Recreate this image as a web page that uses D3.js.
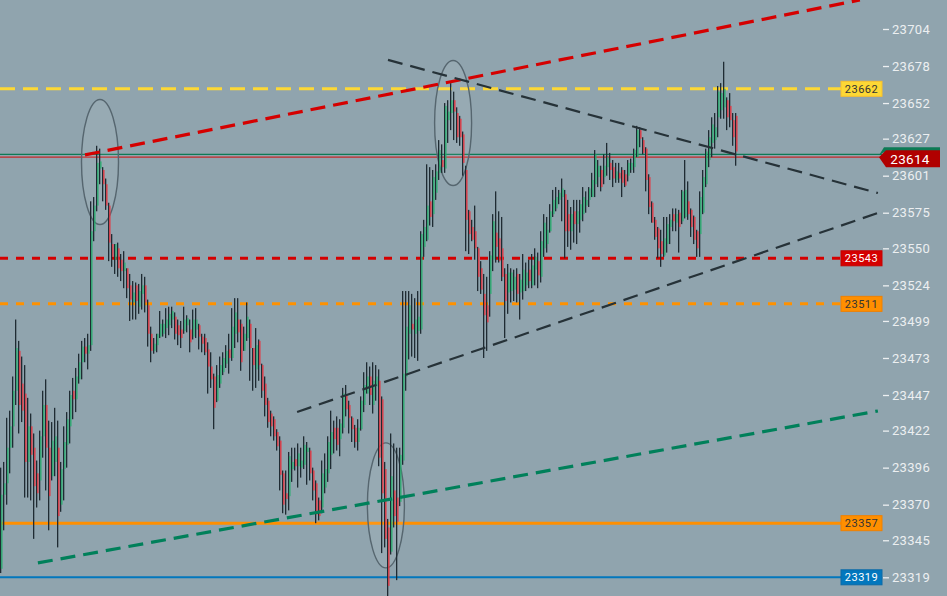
<!DOCTYPE html>
<html><head><meta charset="utf-8">
<script src="https://cdn.jsdelivr.net/npm/d3@7/dist/d3.min.js"></script>
<style>
html,body{margin:0;padding:0;background:#90a4ae;overflow:hidden}
svg{display:block;font-family:Roboto,"Noto Sans",sans-serif}
</style></head><body>
<svg id="c" width="947" height="596"></svg>
<script>
// ---- data ----
const opens = [23325,23377,23385,23410,23425,23450,23478,23455,23448,23400,23425,23410,23392,23387,23418,23440,23410,23390,23400,23410,23370,23395,23412,23425,23450,23444,23458,23470,23481,23476,23482,23562,23580,23606,23605,23595,23580,23553,23542,23550,23542,23534,23536,23524,23512,23524,23509,23518,23524,23510,23490,23478,23482,23488,23490,23494,23496,23500,23502,23496,23493,23492,23496,23493,23488,23493,23496,23488,23487,23479,23467,23460,23443,23455,23463,23469,23479,23473,23490,23500,23497,23478,23487,23497,23480,23465,23485,23468,23455,23443,23434,23430,23421,23415,23392,23378,23376,23395,23402,23397,23396,23398,23407,23408,23394,23385,23373,23368,23382,23392,23405,23424,23424,23416,23424,23447,23440,23431,23424,23414,23423,23440,23448,23460,23440,23453,23457,23444,23395,23354,23337,23380,23375,23372,23401,23460,23490,23497,23490,23492,23493,23551,23556,23583,23574,23589,23603,23612,23606,23640,23645,23654,23645,23641,23630,23605,23576,23565,23562,23550,23536,23518,23510,23518,23542,23561,23557,23550,23532,23519,23520,23521,23532,23519,23520,23524,23535,23524,23535,23541,23530,23550,23553,23562,23574,23578,23584,23586,23588,23574,23562,23576,23567,23570,23574,23580,23584,23586,23595,23600,23605,23600,23607,23610,23607,23598,23603,23605,23602,23601,23605,23607,23614,23633,23626,23620,23600,23582,23570,23564,23555,23545,23553,23565,23574,23568,23575,23569,23572,23583,23577,23572,23562,23560,23575,23595,23612,23624,23626,23642,23647,23649,23654,23650,23640,23643];
const highs = [23396,23400,23431,23436,23460,23500,23485,23474,23468,23445,23434,23420,23401,23422,23450,23458,23429,23428,23438,23429,23400,23425,23435,23450,23459,23466,23476,23485,23487,23490,23583,23586,23622,23620,23607,23599,23582,23560,23553,23554,23546,23548,23536,23532,23527,23526,23525,23532,23530,23514,23495,23487,23490,23506,23500,23508,23509,23509,23505,23500,23499,23509,23503,23500,23507,23508,23497,23490,23490,23484,23477,23462,23468,23474,23477,23482,23490,23508,23515,23515,23500,23495,23512,23500,23480,23494,23486,23469,23460,23445,23436,23432,23423,23418,23394,23394,23407,23410,23410,23413,23410,23418,23414,23410,23396,23387,23375,23401,23406,23418,23436,23429,23432,23430,23452,23454,23443,23432,23426,23430,23446,23463,23470,23467,23470,23468,23465,23446,23400,23360,23420,23413,23410,23410,23520,23520,23520,23518,23515,23520,23562,23570,23609,23607,23605,23609,23626,23623,23652,23654,23666,23660,23649,23643,23632,23608,23577,23570,23580,23551,23541,23532,23530,23548,23574,23590,23576,23572,23536,23539,23536,23535,23536,23532,23546,23540,23542,23546,23550,23547,23562,23574,23572,23581,23591,23593,23591,23599,23591,23584,23579,23584,23584,23584,23593,23590,23593,23603,23619,23612,23608,23616,23624,23617,23612,23610,23610,23607,23605,23612,23613,23620,23636,23635,23628,23621,23602,23583,23572,23565,23563,23572,23572,23574,23578,23578,23577,23591,23612,23597,23578,23573,23563,23590,23605,23620,23633,23642,23645,23664,23666,23681,23656,23659,23645,23645];
const lows = [23322,23352,23370,23392,23410,23440,23420,23428,23375,23375,23373,23346,23368,23373,23403,23380,23352,23387,23390,23340,23365,23373,23396,23413,23430,23435,23455,23458,23470,23465,23478,23555,23576,23595,23583,23577,23541,23537,23532,23530,23527,23522,23515,23499,23500,23500,23504,23507,23505,23481,23470,23476,23477,23487,23488,23487,23489,23494,23486,23482,23480,23490,23491,23477,23486,23487,23479,23477,23475,23448,23452,23423,23442,23452,23461,23466,23462,23471,23480,23484,23464,23478,23485,23457,23450,23452,23457,23445,23432,23424,23418,23415,23408,23380,23364,23363,23366,23386,23394,23382,23389,23395,23384,23387,23373,23357,23359,23364,23378,23386,23395,23406,23408,23404,23420,23432,23420,23414,23410,23408,23422,23435,23448,23440,23434,23443,23397,23336,23340,23300,23335,23354,23317,23369,23398,23450,23472,23474,23473,23471,23490,23544,23555,23566,23565,23584,23598,23603,23603,23624,23633,23626,23624,23622,23601,23548,23546,23555,23542,23520,23518,23473,23478,23502,23534,23540,23540,23527,23487,23504,23512,23513,23512,23500,23514,23520,23522,23522,23524,23522,23526,23544,23547,23561,23572,23576,23581,23569,23543,23551,23549,23554,23553,23561,23569,23575,23579,23586,23586,23593,23590,23595,23601,23598,23593,23596,23596,23586,23593,23597,23603,23603,23614,23621,23616,23590,23574,23568,23556,23543,23537,23544,23547,23553,23562,23562,23547,23567,23571,23570,23558,23553,23544,23544,23574,23593,23607,23614,23620,23628,23641,23641,23633,23635,23622,23608];
const closes = [23377,23385,23410,23425,23450,23480,23440,23436,23400,23425,23405,23383,23378,23418,23440,23410,23376,23415,23418,23362,23395,23414,23430,23447,23444,23460,23470,23481,23476,23482,23562,23580,23610,23611,23595,23580,23554,23544,23553,23536,23534,23540,23522,23514,23519,23513,23520,23524,23512,23490,23478,23483,23490,23497,23497,23500,23504,23506,23490,23489,23487,23500,23501,23484,23500,23500,23488,23483,23477,23467,23458,23438,23461,23468,23473,23478,23473,23495,23505,23491,23470,23490,23502,23480,23468,23482,23468,23450,23440,23428,23425,23418,23411,23391,23370,23374,23404,23400,23397,23406,23401,23412,23410,23392,23380,23363,23362,23392,23395,23414,23421,23416,23412,23427,23448,23437,23431,23423,23414,23424,23443,23454,23460,23447,23457,23460,23403,23378,23346,23313,23390,23362,23358,23405,23462,23495,23510,23493,23500,23502,23560,23565,23580,23572,23600,23604,23619,23607,23650,23646,23654,23646,23628,23628,23610,23570,23560,23556,23550,23530,23521,23503,23498,23545,23569,23551,23541,23530,23513,23533,23533,23530,23518,23528,23535,23533,23527,23538,23544,23531,23555,23568,23563,23576,23584,23586,23589,23592,23562,23562,23574,23567,23576,23581,23586,23584,23592,23598,23616,23608,23593,23608,23614,23605,23599,23604,23599,23596,23594,23610,23610,23619,23633,23627,23617,23598,23579,23568,23558,23550,23546,23557,23567,23570,23569,23574,23565,23590,23591,23574,23565,23556,23550,23586,23600,23618,23628,23637,23635,23660,23659,23662,23642,23640,23628,23618];

const tickValues = [23319,23345,23370,23396,23422,23447,23473,23499,23524,23550,23575,23601,23627,23652,23678,23704];

// horizontal levels
const levelPrices = [23662, 23543, 23511, 23357, 23319];
const levelLabels = ["23662","23543","23511","23357","23319"];
const currentPrice = 23614;
const currentLabel = "23614";
const greenRefPrice = 23616;

// trend lines: [startIndex, startPrice, endIndex, endPrice]
const trendRed   = [28, 23615.6, 286.3, 23724.4];
const trendUpper = [129, 23682.3, 292.3, 23588.8];
const trendLower = [98.7, 23435.1, 292.3, 23574.8];
const trendGreen = [12.3, 23329.1, 292.3, 23435.8];

// annotation ellipses centred on [candleIndex, price]
const ellipseCentres = [[33, 23610.6], [150.7, 23638], [128.3, 23369.5]];

// ---- drawing ----
const W = 947, H = 596;
const svg = d3.select("#c");
svg.append("rect").attr("width", W).attr("height", H).attr("fill", "#90a4ae");

const y = d3.scaleLinear().domain([23305.87, 23724.36]).range([H, 0]);
const x = d3.scaleLinear().domain([0, 245]).range([1, 736]);

const candles = opens.map((o, i) => ({i, o, h: highs[i], l: lows[i], c: closes[i]}));

const lv = svg.append("g");
function hline(price, color, width, dash, x2) {
  lv.append("line").attr("x1", 0).attr("x2", x2).attr("y1", y(price)).attr("y2", y(price))
    .attr("stroke", color).attr("stroke-width", width)
    .attr("stroke-dasharray", dash || null);
}
hline(levelPrices[0], "#fdd835", 3, "15,8", 841);
hline(levelPrices[1], "#d50000", 3, "8,8", 841);
hline(levelPrices[2], "#ff9100", 3, "8,8", 841);
hline(levelPrices[3], "#ff8f00", 3, null, 841);
hline(levelPrices[4], "#0277bd", 2, null, 841);
hline(greenRefPrice, "#0d7a55", 1.2, null, 882);
hline(currentPrice, "#c62828", 1.4, null, 882);

const el = svg.append("g");
ellipseCentres.forEach(([ci, p]) => {
  el.append("ellipse").attr("cx", x(ci)).attr("cy", y(p)).attr("rx", 18.5).attr("ry", 62.5)
    .attr("fill", "rgba(255,255,255,0.07)").attr("stroke", "#56666f").attr("stroke-width", 1.4);
});

const cg = svg.append("g");
cg.selectAll("rect.w").data(candles).join("rect").attr("class", "w")
  .attr("x", d => Math.round(x(d.i)) - 1).attr("width", 1.3)
  .attr("y", d => y(d.h)).attr("height", d => Math.max(1, y(d.l) - y(d.h)))
  .attr("fill", "#1f2b33");
cg.selectAll("rect.b").data(candles).join("rect").attr("class", "b")
  .attr("x", d => Math.round(x(d.i)) + 0.2).attr("width", 1.3)
  .attr("y", d => y(Math.max(d.o, d.c))).attr("height", d => Math.max(1, Math.abs(y(d.o) - y(d.c))))
  .attr("fill", d => d.c >= d.o ? "#27ad6e" : "#e8333f");

const tl = svg.append("g");
function trend(t, color, width, dash) {
  tl.append("line").attr("x1", x(t[0])).attr("y1", y(t[1])).attr("x2", x(t[2])).attr("y2", y(t[3]))
    .attr("stroke", color).attr("stroke-width", width).attr("stroke-dasharray", dash);
}
trend(trendRed, "#d50000", 3.2, "15,8");
trend(trendUpper, "#263238", 2.2, "15,8");
trend(trendLower, "#263238", 2.2, "15,8");
trend(trendGreen, "#00805a", 3.2, "15,8");

const axis = d3.axisRight(y).tickValues(tickValues).tickSize(6).tickPadding(3).tickFormat(d3.format("d"));
const ag = svg.append("g").attr("transform", "translate(883,0)").call(axis);
ag.select(".domain").remove();
ag.selectAll(".tick line").attr("stroke", "#eceff1").attr("stroke-width", 1.3);
ag.selectAll(".tick text").attr("fill", "#eceff1").attr("font-size", 13).attr("font-family", "Roboto")
  .attr("letter-spacing", 0.3);

const badgeFill = ["#fdd835", "#d50000", "#ff8f00", "#ff8f00", "#0277bd"];
const badgeStroke = ["#f9c02d", "#c40000", "#f08000", "#f08000", "#0a6aa8"];
const badgeText = ["#333", "#fff", "#333", "#333", "#fff"];
const bg = svg.append("g");
levelPrices.forEach((p, k) => {
  const yy = y(p);
  bg.append("rect").attr("x", 841).attr("y", yy - 7.5).attr("width", 41).attr("height", 15)
    .attr("fill", badgeFill[k]).attr("stroke", badgeStroke[k]).attr("stroke-width", 1);
  bg.append("text").attr("x", 861.5).attr("y", yy + 4).attr("text-anchor", "middle")
    .attr("font-size", 11).attr("letter-spacing", 0.5).attr("fill", badgeText[k]).text(levelLabels[k]);
});

const cy = y(currentPrice);
bg.append("path").attr("d", `M879,${cy - 2} L884,${cy - 10} L940,${cy - 10} L940,${cy - 5} L884,${cy - 5} Z`)
  .attr("fill", "#0d7a55");
bg.append("path").attr("d", `M879,${cy} L886,${cy - 7} L940,${cy - 7} L940,${cy + 10} L886,${cy + 10} Z`)
  .attr("fill", "#b00000");
bg.append("text").attr("x", 910).attr("y", cy + 6.5).attr("text-anchor", "middle")
  .attr("font-size", 13.5).attr("fill", "#fff").attr("letter-spacing", 0.3).text(currentLabel);
</script>
</body></html>
